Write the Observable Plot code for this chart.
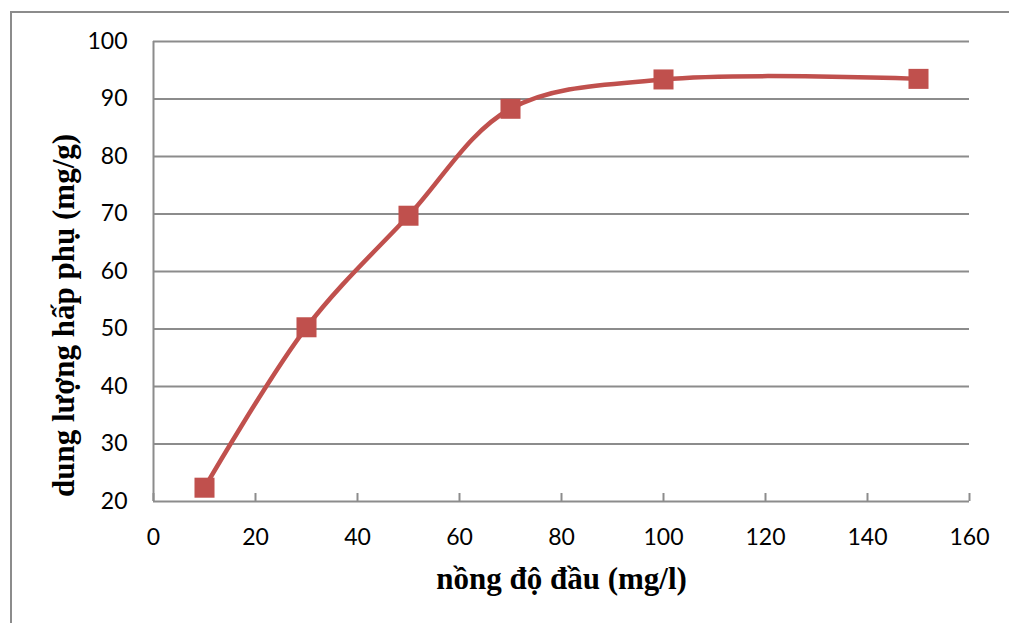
<!DOCTYPE html>
<html>
<head>
<meta charset="utf-8">
<script src="https://cdn.jsdelivr.net/npm/d3@7"></script>
<script src="https://cdn.jsdelivr.net/npm/@observablehq/plot@0.6"></script>
<style>
  html, body { margin: 0; padding: 0; background: #fff; }
  #wrap { position: relative; width: 1009px; height: 623px; overflow: hidden; }
  #border { position: absolute; left: 10px; top: 11px; width: 1100px; height: 700px; border: 2px solid #8c8c8c; box-sizing: border-box; }
  #chart { position: absolute; left: 0; top: 0; }
</style>
</head>
<body>
<div id="wrap"><div id="border"></div><div id="chart"></div></div>
<script>
const concentration = [10, 30, 50, 70, 100, 150];
const capacity = [22.4, 50.3, 69.7, 88.3, 93.4, 93.5];
const xTicks = [0, 20, 40, 60, 80, 100, 120, 140, 160];
const yTicks = [20, 30, 40, 50, 60, 70, 80, 90, 100];
const xTitle = "nồng độ đầu (mg/l)";
const yTitle = "dung lượng hấp phụ (mg/g)";

const data = concentration.map((c, i) => ({c, q: capacity[i]}));
const red = "#C0504D";
const gray = "#8c8c8c";

const chart = Plot.plot({
  width: 1009,
  height: 623,
  marginLeft: 153,
  marginRight: 40,
  marginTop: 41,
  marginBottom: 122,
  style: {fontFamily: "Lato", fontSize: "23px", color: "#000", background: "transparent", overflow: "visible"},
  x: {domain: [0, 160]},
  y: {domain: [20, 100]},
  marks: [
    Plot.ruleY(yTicks, {stroke: gray, strokeWidth: 2, strokeOpacity: 1}),
    Plot.ruleX([0], {stroke: gray, strokeWidth: 2}),
    Plot.tickX(xTicks, {x: d => d, insetTop: 452, stroke: gray, strokeWidth: 2}),
    Plot.axisX({ticks: xTicks, tickSize: 0, tickPadding: 27, label: null, tickFormat: d => String(d)}),
    Plot.axisY({ticks: yTicks, tickSize: 0, tickPadding: 26, label: null, tickFormat: d => String(d)}),
    Plot.line(data, {x: "c", y: "q", curve: "catmull-rom", stroke: red, strokeWidth: 4.5}),
    Plot.dot(data, {x: "c", y: "q", symbol: "square", r: 11.3, fill: red, stroke: "none"}),
    Plot.text([xTitle], {text: d => d, frameAnchor: "bottom", lineAnchor: "bottom", dy: 87,
      fontFamily: "Liberation Serif", fontWeight: "bold", fontSize: 31, fill: "#000"}),
    Plot.text([yTitle], {text: d => d, frameAnchor: "left", textAnchor: "middle", lineAnchor: "bottom", rotate: -90, dx: -80, dy: 44,
      fontFamily: "Liberation Serif", fontWeight: "bold", fontSize: 31, fill: "#000"})
  ]
});
document.getElementById("chart").appendChild(chart);
</script>
</body>
</html>
